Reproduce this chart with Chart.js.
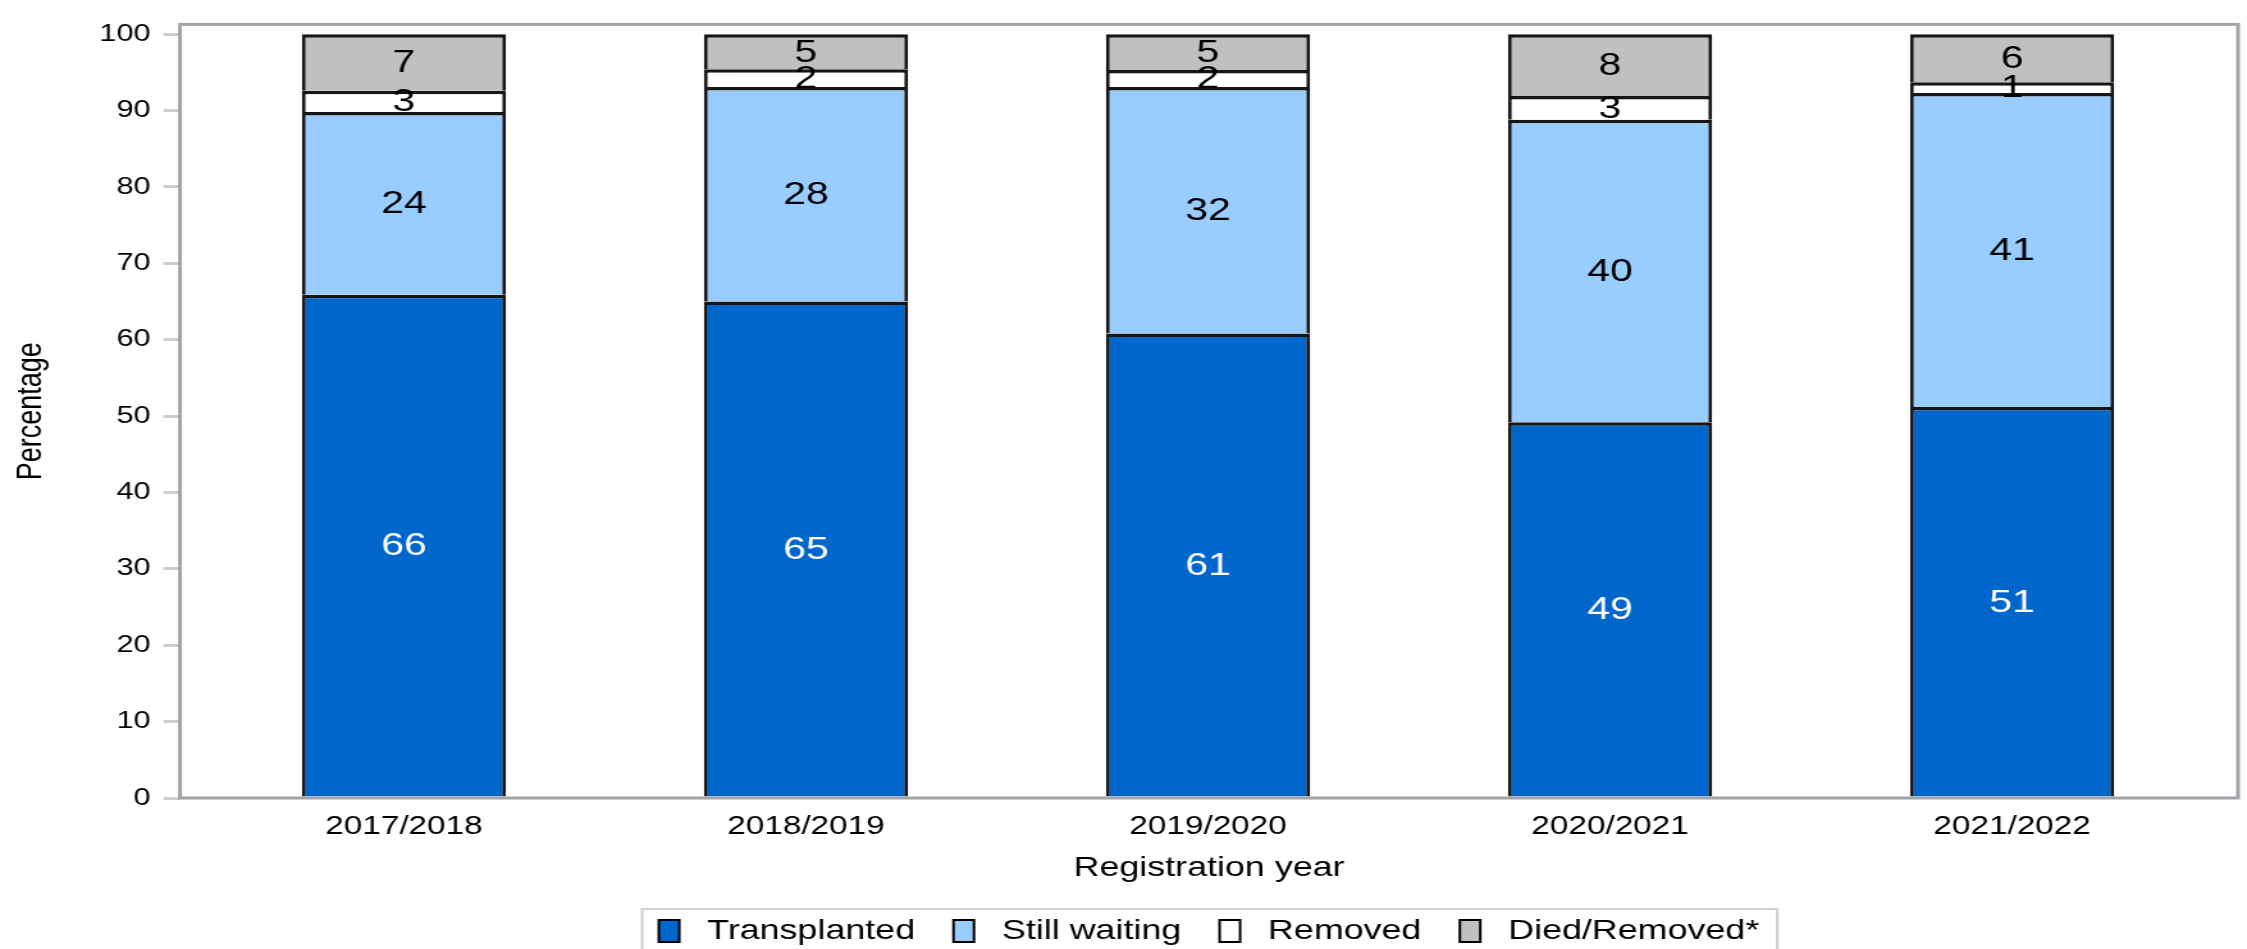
<!DOCTYPE html>
<html><head><meta charset="utf-8">
<script src="https://cdn.jsdelivr.net/npm/chart.js@4"></script>
<style>
html,body{margin:0;padding:0;background:#fff;overflow:hidden;width:2247px;height:949px}
#wrap{width:1755px;height:949px;transform:scaleX(1.280342);transform-origin:0 0}
canvas{display:block}
</style></head><body>
<div id="wrap"><canvas id="c" width="1755" height="949"></canvas></div>
<script>
const categories = ['2017/2018', '2018/2019', '2019/2020', '2020/2021', '2021/2022'];
const transplanted = [65.9, 65.0, 60.8, 49.2, 51.2];
const stillWaiting = [23.9, 28.1, 32.3, 39.6, 41.1];
const removed = [2.8, 2.3, 2.2, 3.1, 1.4];
const diedRemoved = [7.4, 4.6, 4.7, 8.1, 6.3];
const seriesNames = ['Transplanted', 'Still waiting', 'Removed', 'Died/Removed*'];
const yTicks = [0, 10, 20, 30, 40, 50, 60, 70, 80, 90, 100];

const FONT = '"Liberation Sans", Arial, sans-serif';
const colors = ['#0066cc', '#99ccff', '#ffffff', '#c0c0c0'];
const series = [transplanted, stillWaiting, removed, diedRemoved];

const datasets = series.map((arr, k) => ({
  label: seriesNames[k],
  data: arr.map((v, i) => ({x: i, y: v})),
  backgroundColor: colors[k],
  borderColor: '#161616',
  borderWidth: {top: 3.5, left: 3, right: 3, bottom: 0},
  borderSkipped: 'start',
  categoryPercentage: 0.508,
  barPercentage: 1.0
}));

const decor = {
  id: 'decor',
  afterDatasetsDraw(chart) {
    const ctx = chart.ctx, a = chart.chartArea;
    ctx.save();
    ctx.strokeStyle = '#a0a3a7';
    ctx.lineWidth = 3;
    ctx.strokeRect(a.left, a.top, a.right - a.left, a.bottom - a.top);
    ctx.font = '32px ' + FONT;
    ctx.textAlign = 'center';
    ctx.textBaseline = 'middle';
    chart.data.datasets.forEach((ds, di) => {
      const meta = chart.getDatasetMeta(di);
      meta.data.forEach((bar, i) => {
        ctx.fillStyle = di === 0 ? '#ffffff' : '#000000';
        ctx.fillText(String(Math.round(ds.data[i].y)), bar.x, (bar.y + bar.base) / 2 + 1);
      });
    });
    ctx.restore();
  },
  afterDraw(chart) {
    const L = chart.legend;
    if (!L || !L.legendHitBoxes || !L.legendHitBoxes.length) return;
    const hb = L.legendHitBoxes;
    const left = hb[0].left - 13;
    const last = hb[hb.length - 1];
    const right = last.left + last.width + 14;
    const ctx = chart.ctx;
    ctx.save();
    ctx.strokeStyle = '#cfcfcf';
    ctx.lineWidth = 2;
    ctx.strokeRect(left, 909, right - left, 60);
    ctx.restore();
  }
};

new Chart(document.getElementById('c'), {
  type: 'bar',
  data: {datasets},
  plugins: [decor],
  options: {
    responsive: false,
    devicePixelRatio: 1,
    animation: false,
    layout: {padding: {top: 8, right: 7, bottom: -6, left: 0}},
    plugins: {
      tooltip: {enabled: false},
      legend: {
        position: 'bottom',
        fullSize: false,
        labels: {
          font: {size: 28, family: FONT},
          color: '#000',
          boxWidth: 16,
          boxHeight: 22,
          padding: 30,
          generateLabels: (chart) => chart.data.datasets.map((ds, i) => ({
            text: ' ' + ds.label,
            fillStyle: ds.backgroundColor,
            strokeStyle: '#000',
            lineWidth: 2,
            datasetIndex: i,
            hidden: false
          }))
        }
      }
    },
    scales: {
      x: {
        type: 'linear',
        stacked: true,
        offset: false,
        min: -0.557,
        max: 4.562,
        afterBuildTicks: (s) => { s.ticks = categories.map((c, i) => ({value: i})); },
        afterFit: (s) => { s.height = 89; },
        grid: {display: false, drawTicks: false, tickLength: 0, offset: false},
        border: {display: false},
        ticks: {
          font: {size: 26, family: FONT},
          color: '#000',
          padding: 13,
          maxRotation: 0,
          autoSkip: false,
          callback: (v) => categories[v] !== undefined ? categories[v] : ''
        },
        title: {
          display: true,
          text: 'Registration year',
          font: {size: 28, family: FONT},
          color: '#000',
          padding: {top: 0, bottom: 2}
        }
      },
      y: {
        stacked: true,
        min: 0,
        max: 101.28,
        afterBuildTicks: (s) => { s.ticks = yTicks.map(v => ({value: v})); },
        afterFit: (s) => { s.width = 140.6; },
        grid: {drawOnChartArea: false, drawTicks: true, tickLength: 13, color: '#cccccc', lineWidth: 3},
        border: {display: false},
        ticks: {
          font: {size: 24, family: FONT},
          color: '#000',
          padding: 10
        },
        title: {
          display: true,
          text: 'Percentage',
          font: {size: 27, family: FONT},
          color: '#000',
          padding: {top: 8, bottom: 0}
        }
      }
    }
  }
});
</script>
</body></html>
